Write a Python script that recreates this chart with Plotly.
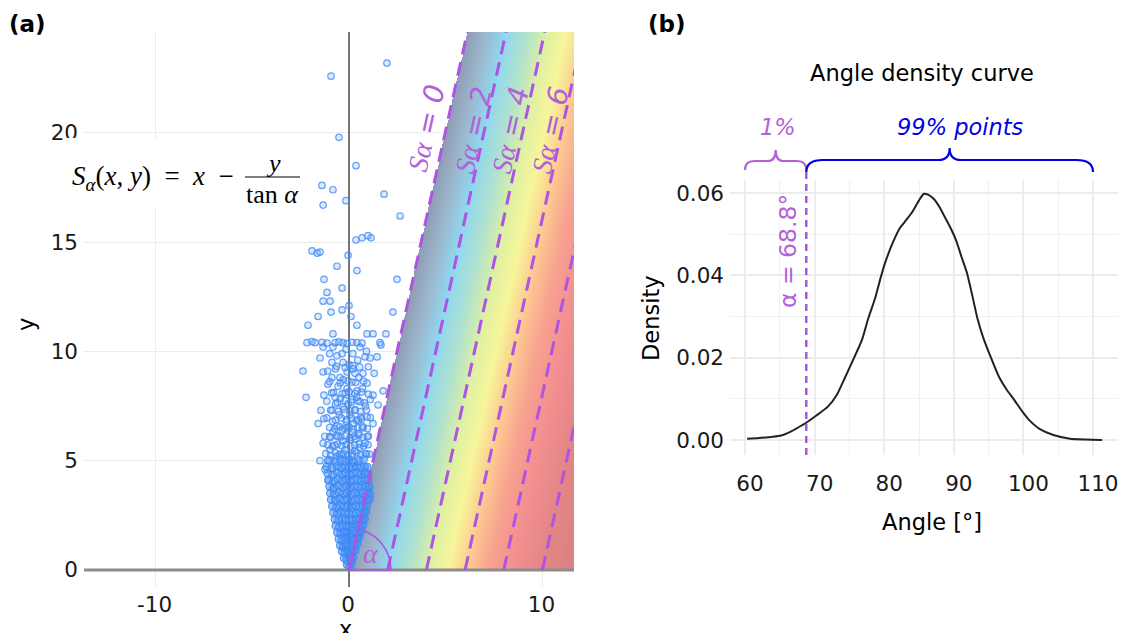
import numpy as np
import plotly.graph_objects as go

W, H = 1123, 633

# ---------------- Panel (a) data ----------------
core_x = [-0.10, 0.03, 0.12,
          -0.25, -0.12, 0.0, 0.1, 0.2,
          -0.35, -0.2, -0.06, 0.08, 0.22, 0.32,
          -0.45, -0.3, -0.15, 0.0, 0.15, 0.3, 0.42,
          -0.52, -0.36, -0.2, -0.05, 0.1, 0.25, 0.4, 0.52,
          -0.6, -0.43, -0.26, -0.1, 0.05, 0.2, 0.35, 0.5, 0.62,
          -0.68, -0.5, -0.32, -0.15, 0.0, 0.15, 0.3, 0.45, 0.6, 0.72,
          -0.72, -0.54, -0.36, -0.18, 0.02, 0.2, 0.38, 0.55, 0.7, 0.8,
          -0.8, -0.6, -0.42, -0.22, 0.0, 0.2, 0.4, 0.58, 0.75, 0.86,
          -0.86, -0.64, -0.45, -0.25, -0.05, 0.15, 0.35, 0.55, 0.72, 0.9,
          -0.92, -0.7, -0.48, -0.28, -0.08, 0.12, 0.32, 0.52, 0.7, 0.88, 1.0,
          -0.96, -0.75, -0.52, -0.3, -0.1, 0.1, 0.3, 0.5, 0.7, 0.9, 1.05,
          -1.0, -0.78, -0.55, -0.32, -0.12, 0.08, 0.28, 0.48, 0.68, 0.88, 1.04,
          -1.05, -0.8, -0.58, -0.35, -0.15, 0.05, 0.25, 0.45, 0.65, 0.85, 1.0,
          -1.1, -0.85, -0.6, -0.38, -0.18, 0.02, 0.22, 0.42, 0.62, 0.82, 0.98,
          -1.15, -0.88, -0.62, -0.4, -0.2, 0.0, 0.2, 0.4, 0.6, 0.8, 0.95,
          -1.0, -0.7, -0.45, -0.22, 0.0, 0.25, 0.5, 0.75]
core_y = [0.25, 0.15, 0.3,
          0.55, 0.45, 0.6, 0.5, 0.58,
          0.85, 0.78, 0.9, 0.75, 0.86, 0.92,
          1.12, 1.05, 1.18, 1.1, 1.02, 1.15, 1.2,
          1.42, 1.35, 1.48, 1.4, 1.45, 1.36, 1.44, 1.5,
          1.72, 1.66, 1.75, 1.7, 1.64, 1.78, 1.7, 1.68, 1.76,
          2.02, 1.95, 2.06, 1.98, 2.04, 1.96, 2.08, 2.0, 1.97, 2.05,
          2.32, 2.26, 2.35, 2.28, 2.34, 2.25, 2.3, 2.36, 2.28, 2.33,
          2.62, 2.57, 2.66, 2.6, 2.55, 2.64, 2.58, 2.63, 2.59, 2.65,
          2.92, 2.86, 2.95, 2.88, 2.94, 2.87, 2.93, 2.89, 2.96, 2.9,
          3.22, 3.16, 3.25, 3.18, 3.24, 3.15, 3.21, 3.26, 3.17, 3.23, 3.2,
          3.52, 3.47, 3.55, 3.48, 3.53, 3.46, 3.54, 3.49, 3.51, 3.56, 3.5,
          3.82, 3.76, 3.85, 3.78, 3.84, 3.77, 3.83, 3.79, 3.86, 3.8, 3.81,
          4.12, 4.06, 4.15, 4.08, 4.14, 4.05, 4.11, 4.16, 4.07, 4.13, 4.1,
          4.42, 4.36, 4.45, 4.38, 4.44, 4.35, 4.41, 4.46, 4.37, 4.43, 4.4,
          4.72, 4.66, 4.75, 4.68, 4.74, 4.65, 4.71, 4.76, 4.67, 4.73, 4.7,
          5.02, 4.96, 5.05, 4.98, 5.04, 4.95, 5.01, 5.06]

mid_x = [-1.2, -0.95, -0.7, -0.5, -0.28, -0.05, 0.18, 0.4, 0.62, 0.85, 1.05,
         -1.1, -0.85, -0.6, -0.38, -0.15, 0.08, 0.3, 0.52, 0.75, 0.98,
         -1.25, -0.95, -0.65, -0.42, -0.2, 0.05, 0.28, 0.5, 0.72, 1.0,
         -1.0, -0.75, -0.48, -0.25, 0.0, 0.22, 0.45, 0.7, 0.95,
         -1.3, -0.7, -0.4, -0.12, 0.15, 0.38, 0.65, 1.1,
         -0.95, -0.55, -0.25, 0.05, 0.32, 0.6, 0.9,
         -1.15, -0.6, -0.2, 0.12, 0.45, 0.8,
         -0.8, -0.35, 0.0, 0.3, 0.65, 1.0,
         -1.0, -0.45, -0.05, 0.35, 0.75,
         -0.65, -0.2, 0.2, 0.55]
mid_y = [5.32, 5.25, 5.36, 5.28, 5.34, 5.24, 5.31, 5.37, 5.27, 5.33, 5.3,
         5.72, 5.66, 5.75, 5.68, 5.74, 5.65, 5.71, 5.77, 5.67, 5.73,
         6.12, 6.06, 6.15, 6.08, 6.14, 6.05, 6.11, 6.17, 6.07, 6.13,
         6.52, 6.46, 6.55, 6.48, 6.54, 6.45, 6.51, 6.57, 6.47,
         6.92, 6.86, 6.95, 6.88, 6.94, 6.85, 6.91, 6.97,
         7.32, 7.26, 7.35, 7.28, 7.34, 7.25, 7.31,
         7.72, 7.66, 7.75, 7.68, 7.74, 7.65,
         8.12, 8.06, 8.15, 8.08, 8.14, 8.05,
         8.62, 8.56, 8.65, 8.58, 8.64,
         9.32, 9.26, 9.35, 9.28]

tail_x = [-0.93, 1.96, -0.52, 0.36, -1.4, -0.83, -1.34, -0.16, 1.81, 2.64,
          0.36, 0.67, 0.98, 1.14, -1.91, -1.65, -1.5, -0.05, -0.62, 0.41,
          2.48, -1.29, -1.14, -0.36, -1.34, -0.98, 0.0, -0.36,
          -0.93, 2.27, -1.6, 0.10, -2.12, 0.41, -0.83, 0.93, 1.24, 1.91,
          -2.17, -1.91, -1.76, -1.40, -1.14, -0.72, -0.52, -0.31, -0.10, 0.16,
          0.41, 0.67, 1.6, 1.65,
          -1.34, -0.83, 0.57, -0.36, -0.62, -1.5, 0.83, 1.09, 1.45, -0.88,
          -0.31, -2.38, -1.34, -1.1, -0.1, 0.21, 0.31, 0.72, -0.88, -0.47,
          0.93, -1.09, -0.57, -0.1, 0.41, -2.22, 1.24, 1.76, -0.72, -0.45,
          0.16, 0.57, -0.31, 1.5, -0.88, 0.05, 0.93, -1.14, -1.6, 0.47,
          -0.62, -0.1, 0.72, 1.24, -0.83, 0.5, -0.57, 0.05, -1.34, 0.83,
          -0.98, -0.2, 0.3, -0.62, 0.9, -1.5, -1.1, -1.24, 0.83, -1.09,
          -0.83, 0.67, -0.72, 1.03, 1.1,
          -0.4, 0.15, 0.55, -0.75, -0.3, 0.35, -1.0, 0.2, -0.35, 0.95,
          -0.15, 0.25, -0.85, 0.6, -0.5, 0.3, -0.05, 0.85, -0.7, 0.4,
          -0.2, 0.7, -0.9, 0.15, -0.3, 0.5, -0.7, 0.0, 0.45, -1.0,
          0.2, -0.15, 0.9, 1.0, -1.3, -1.45, 1.1, 1.3]
tail_y = [22.6, 23.2, 19.8, 18.5, 17.6, 17.4, 16.7, 16.9, 17.2, 16.2,
          15.1, 15.2, 15.3, 15.2, 14.6, 14.5, 14.55, 14.4, 13.9, 13.7,
          13.3, 13.3, 12.7, 12.9, 12.3, 12.3, 12.1, 11.9,
          11.8, 11.8, 11.6, 11.6, 11.2, 11.2, 10.8, 10.8, 10.8, 10.8,
          10.4, 10.45, 10.4, 10.42, 10.38, 10.4, 10.44, 10.4, 10.36, 10.42,
          10.4, 10.38, 10.4, 10.3,
          10.2, 10.2, 10.2, 9.9, 9.8, 9.7, 9.75, 9.7, 9.75, 9.5,
          9.5, 9.1, 9.06, 9.1, 9.06, 9.2, 9.0, 9.0, 8.8, 8.8,
          8.55, 8.5, 8.4, 8.3, 8.2, 7.9, 8.0, 8.2, 7.9, 7.85,
          7.8, 7.7, 7.45, 7.55, 7.3, 7.1, 7.0, 6.96, 6.7, 6.86,
          6.6, 6.5, 6.5, 6.7, 6.3, 6.25, 6.1, 5.95, 5.8, 5.8,
          5.5, 5.5, 5.45, 5.2, 5.3, 5.0, 5.0, 4.6, 4.5, 4.1,
          3.7, 3.6, 3.2, 3.2, 3.3,
          5.3, 5.2, 5.6, 5.7, 5.9, 6.0, 6.1, 6.3, 6.4, 6.1,
          6.8, 6.7, 6.8, 7.0, 7.1, 7.3, 7.6, 7.5, 7.6, 7.9,
          8.1, 8.3, 8.1, 8.6, 8.7, 8.8, 9.2, 9.4, 9.6, 9.9,
          9.9, 10.1, 10.0, 9.3, 8.0, 7.3, 7.8, 9.0]

s_levels = [0, 2, 4, 6, 8, 10]
s_label_levels = [0, 2, 4, 6]
line_angle_deg = 76.05   # visual inclination of the S-lines in data units

# ---------------- Panel (b) data ----------------
angle_deg = [60.3, 62.0, 64.0, 65.2, 66.5, 67.7, 68.8, 70.3, 71.9, 73.2,
             74.4, 75.6, 76.8, 77.7, 78.7, 79.5, 80.1, 81.2, 82.3, 83.2,
             84.0, 85.0, 85.7, 86.3, 87.1, 87.9, 88.6, 89.5, 90.3, 91.1,
             91.9, 92.6, 93.4, 94.2, 95.1, 96.5, 97.6, 98.7, 99.8, 100.8,
             102.5, 104.3, 106.7, 109.0, 111.3]
density = [0.0003, 0.0005, 0.0008, 0.0011, 0.0020, 0.0031, 0.0042, 0.0060, 0.0081, 0.0110,
           0.0153, 0.0197, 0.0243, 0.0295, 0.0345, 0.0395, 0.0429, 0.0478, 0.0516, 0.0535,
           0.0553, 0.0582, 0.0598, 0.0596, 0.0586, 0.0567, 0.0545, 0.0516, 0.0486, 0.0445,
           0.0405, 0.0355, 0.0295, 0.0250, 0.0210, 0.0153, 0.0122, 0.0097, 0.0070, 0.0049,
           0.0025, 0.0012, 0.0003, 0.0001, 0.0000]
alpha_cut = 68.8
x_ticks_b = [60, 70, 80, 90, 100, 110]
y_ticks_b = [0.0, 0.02, 0.04, 0.06]

# ---------------- styles ----------------
PURPLE_LINE = "#ad55e2"
PURPLE_TXT = "#b262d8"
BLUE = "#0000e6"
GRID = "#ececec"
FONT = "DejaVu Sans"
SERIF = "Liberation Serif"
TXT = 22.5
TICK = 21.5

XR_A = [-13.70, 11.63]
YR_A = [-0.78, 24.62]
XR_B = [57.84, 113.59]
YR_B = [-0.00364, 0.06315]


def pxx(p):
    return p / W


def pxy(p):
    return 1 - p / H


k = 1 / np.tan(np.radians(line_angle_deg))

fig = go.Figure()

# gradient field of S = x - k*y (drawn where S >= 0)
gx = np.arange(0.0, XR_A[1] + 0.05, 0.04)
gy = np.arange(0.0, YR_A[1] + 0.1, 0.08)
GX, GY = np.meshgrid(gx, gy)
S = GX - k * GY
S = np.where(S >= 0, S, np.nan)
colorscale = [
    [0.00, "#8d9cb3"], [0.08, "#9cb6cc"], [0.17, "#8fd8f0"], [0.27, "#b2e2cc"],
    [0.36, "#e0f1a2"], [0.44, "#f7f59a"], [0.53, "#fcc890"], [0.62, "#f8a290"],
    [0.72, "#f39090"], [0.85, "#e58686"], [1.00, "#d98080"]]
fig.add_trace(go.Heatmap(x=gx, y=gy, z=S, colorscale=colorscale, zmin=0, zmax=XR_A[1],
                         showscale=False, hoverinfo="skip", xaxis="x", yaxis="y"))

# axis lines at x=0 and y=0
fig.add_trace(go.Scatter(x=[0, 0], y=YR_A, mode="lines", line=dict(color="#555555", width=1.6),
                         hoverinfo="skip", showlegend=False, xaxis="x", yaxis="y"))
fig.add_trace(go.Scatter(x=XR_A, y=[0, 0], mode="lines", line=dict(color="#8c8c8c", width=3),
                         hoverinfo="skip", showlegend=False, xaxis="x", yaxis="y"))

# scatter points
fig.add_trace(go.Scatter(x=core_x, y=core_y, mode="markers",
                         marker=dict(size=8, color="rgba(66,140,245,0.55)",
                                     line=dict(color="rgba(60,135,245,0.9)", width=1)),
                         hoverinfo="skip", showlegend=False, xaxis="x", yaxis="y"))
fig.add_trace(go.Scatter(x=mid_x + tail_x, y=mid_y + tail_y, mode="markers",
                         marker=dict(size=6.5, color="rgba(90,150,245,0.22)",
                                     line=dict(color="rgba(66,140,245,0.8)", width=1.2)),
                         hoverinfo="skip", showlegend=False, xaxis="x", yaxis="y"))

# dashed S lines
for s in s_levels:
    y_end = YR_A[1]
    fig.add_trace(go.Scatter(x=[s, s + k * y_end], y=[0, y_end], mode="lines",
                             line=dict(color=PURPLE_LINE, width=3, dash="14px,8px"),
                             hoverinfo="skip", showlegend=False, xaxis="x", yaxis="y"))

# alpha wedge
r_px = 42
ppx = (574 - 84) / (XR_A[1] - XR_A[0])
ppy = (587 - 32) / (YR_A[1] - YR_A[0])
theta_end = np.arctan2(ppy * 1.0, ppx * k)
th = np.linspace(0, theta_end, 40)
wx = [0] + list(r_px * np.cos(th) / ppx) + [0]
wy = [0] + list(r_px * np.sin(th) / ppy) + [0]
fig.add_trace(go.Scatter(x=wx, y=wy, mode="lines", line=dict(color=PURPLE_LINE, width=1.6),
                         hoverinfo="skip", showlegend=False, xaxis="x", yaxis="y"))

# ---------------- Panel (b) traces ----------------
fig.add_trace(go.Scatter(x=angle_deg, y=density, mode="lines",
                         line=dict(color="#222222", width=2, shape="spline", smoothing=0.6),
                         hoverinfo="skip", showlegend=False, xaxis="x2", yaxis="y2"))

# ---------------- shapes ----------------
shapes = []
shapes.append(dict(type="rect", xref="paper", yref="paper", x0=pxx(66), x1=pxx(306),
                   y0=pxy(208), y1=pxy(138), fillcolor="white", line=dict(width=0), layer="above"))
shapes.append(dict(type="line", xref="paper", yref="paper", x0=pxx(245), x1=pxx(300),
                   y0=pxy(177), y1=pxy(177), line=dict(color="black", width=1.2), layer="above"))
shapes.append(dict(type="line", xref="x2", yref="paper", x0=alpha_cut, x1=alpha_cut,
                   y0=pxy(455), y1=pxy(171), line=dict(color=PURPLE_LINE, width=2.5, dash="7px,5px")))


def brace(x1, x2, ye, yf, yt, c, m):
    xm = (x1 + x2) / 2
    return (f"M {x1},{ye} Q {x1},{yf} {x1 + c},{yf} L {xm - m},{yf} "
            f"Q {xm},{yf} {xm},{yt} Q {xm},{yf} {xm + m},{yf} "
            f"L {x2 - c},{yf} Q {x2},{yf} {x2},{ye}")


shapes.append(dict(type="path", xref="x2", yref="paper",
                   path=brace(60.0, alpha_cut, pxy(170), pxy(161), pxy(150), 1.3, 1.1),
                   line=dict(color=PURPLE_TXT, width=2.2)))
shapes.append(dict(type="path", xref="x2", yref="paper",
                   path=brace(alpha_cut, 110.0, pxy(172), pxy(160), pxy(148), 2.4, 1.6),
                   line=dict(color=BLUE, width=2.2)))

# ---------------- annotations ----------------
ann = []


def A(text, x, y, size=TXT, color="black", angle=0, family=FONT, xanchor="center"):
    ann.append(dict(text=text, x=pxx(x), y=pxy(y), xref="paper", yref="paper", showarrow=False,
                    font=dict(size=size, color=color, family=family), textangle=angle,
                    xanchor=xanchor, yanchor="middle"))


A("<b>(a)</b>", 27, 24, size=23)
A("<b>(b)</b>", 667, 24, size=23)
A("Angle density curve", 922, 73)
A("x", 345, 629)
A("y", 26, 325, angle=-90)
A("Density", 651, 318, angle=-90)
A("Angle [°]", 932, 522)
A("<i>1%</i>", 778, 127, color=PURPLE_TXT)
A("<i>99% points</i>", 960, 127, color=BLUE)
A("α = 68.8°", 788, 251, size=23.5, color=PURPLE_TXT, angle=-90)
A("<i>α</i>", 371, 553, size=28, color=PURPLE_TXT, family=SERIF)

label_pos = {0: (427, 128), 2: (473, 130), 4: (510, 130), 6: (550, 130)}
text_angle = -np.degrees(np.arctan2(ppy, ppx * k))
for s in s_label_levels:
    xx, yy = label_pos[s]
    A(f"<i><span style='font-family:{SERIF}'>Sα</span> = {s}</i>", xx, yy, size=28,
      color=PURPLE_TXT, angle=text_angle)

# formula
A("<i>S</i><sub><i>α</i></sub>(<i>x</i>, <i>y</i>)  =  <i>x</i>  −", 236, 178, size=27,
  family=SERIF, xanchor="right")
A("<i>y</i>", 273, 163, size=26, family=SERIF)
A("tan <i>α</i>", 272, 194, size=26, family=SERIF)

fig.update_layout(
    width=W, height=H, margin=dict(l=0, r=0, t=0, b=0, autoexpand=False),
    paper_bgcolor="white", plot_bgcolor="white", showlegend=False,
    shapes=shapes, annotations=ann,
    font=dict(family=FONT, size=TXT, color="#1a1a1a"),
    xaxis=dict(domain=[pxx(84), pxx(574)], range=XR_A, anchor="y",
               tickvals=[-10, 0, 10], ticktext=["-10", "0", "10"], showgrid=True,
               gridcolor=GRID, gridwidth=1.2, zeroline=False, showline=False, ticks="",
               ticklabelstandoff=2, ticklabelshift=-1, tickfont=dict(size=TICK, color="#1a1a1a")),
    yaxis=dict(domain=[pxy(587), pxy(32)], range=YR_A, anchor="x",
               tickvals=[0, 5, 10, 15, 20], showgrid=True, gridcolor=GRID, gridwidth=1.2,
               zeroline=False, showline=False, ticks="", ticklabelstandoff=5,
               tickfont=dict(size=TICK, color="#1a1a1a")),
    xaxis2=dict(domain=[pxx(730), pxx(1118)], range=XR_B, anchor="y2",
                tickvals=x_ticks_b, showgrid=True, gridcolor=GRID, gridwidth=1.5,
                minor=dict(dtick=5, tick0=60, showgrid=True, gridcolor="#f1f1f1", gridwidth=1),
                zeroline=False, showline=False, ticks="", ticklabelstandoff=13,
                ticklabelshift=5, tickfont=dict(size=TICK, color="#1a1a1a")),
    yaxis2=dict(domain=[pxy(455), pxy(180)], range=YR_B, anchor="x2",
                tickvals=y_ticks_b, ticktext=["0.00", "0.02", "0.04", "0.06"],
                showgrid=True, gridcolor=GRID, gridwidth=1.5,
                minor=dict(dtick=0.01, tick0=0, showgrid=True, gridcolor="#f1f1f1", gridwidth=1),
                zeroline=False, showline=False, ticks="", ticklabelstandoff=5,
                tickfont=dict(size=TICK, color="#1a1a1a")),
)

fig.write_html("out.html", config={"displayModeBar": False},
               post_script="document.body.style.margin='0px';document.body.style.overflow='hidden';")
